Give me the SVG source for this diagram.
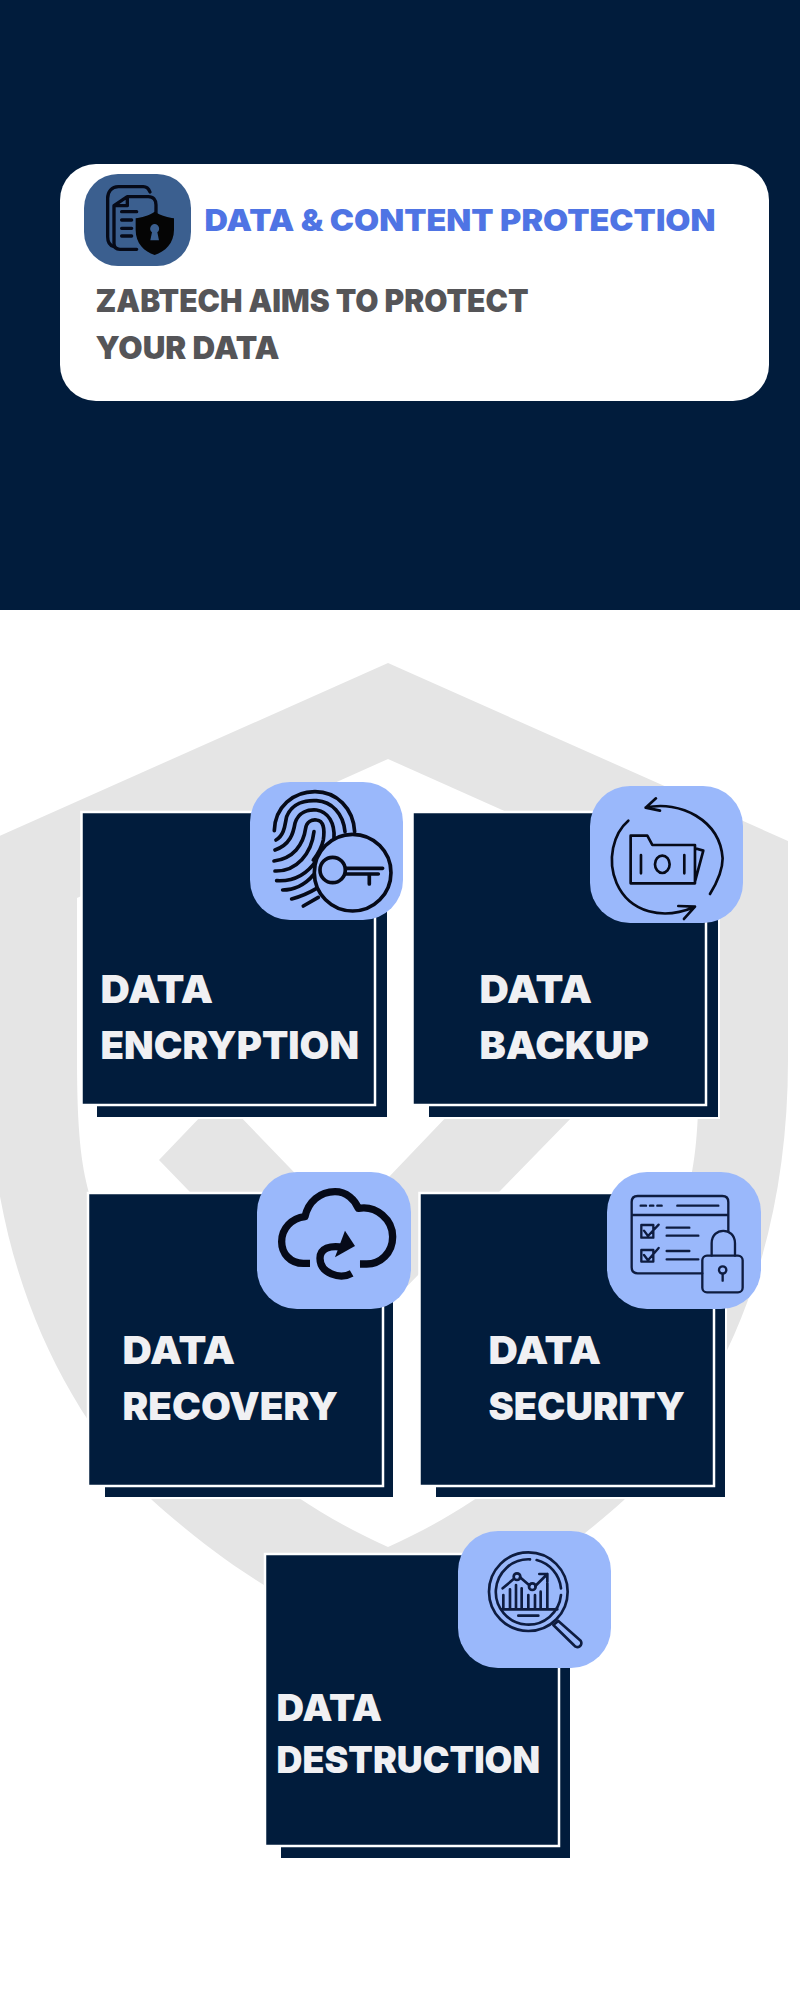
<svg xmlns="http://www.w3.org/2000/svg" width="800" height="2000" viewBox="0 0 800 2000">
<style>
.t{font-family:"Inter","Liberation Sans",sans-serif;font-weight:900}
.c{font-size:38.5px;fill:#f0f0f3}
.d{font-size:36.5px}
.h{font-size:30px;fill:#4f74e4}
.s{font-size:31px;fill:#555558}
.card{fill:#011c3c;stroke:#fff;stroke-width:2.5}
.sh{fill:#011c3c;stroke:#fff;stroke-width:2}
.box{fill:#9ab8fb}
.l{fill:none;stroke:#060a18;stroke-linecap:round;stroke-linejoin:round}
</style>
<rect width="800" height="2000" fill="#fff"/>
<rect width="800" height="610" fill="#011c3c"/>
<g id="shield" fill="#e5e5e5">
<path fill-rule="evenodd" d="M388 663L788 841V1060C788 1240 730 1390 624 1500C585 1535 490 1615 388 1640C286 1615 191 1535 152 1500C46 1390 -12 1240 -12 1060V841ZM388 759L699 898V1060C699 1130 695 1165 687 1193C650 1340 560 1470 388 1547C216 1470 126 1340 89 1193C81 1165 77 1130 77 1060V898Z"/>
<path d="M159 1160L205 1112H236L344 1224L451 1112H577L344 1351Z"/>
</g>
<g id="header">
<rect x="60" y="164" width="709" height="237" rx="36" fill="#fff"/>
<rect x="84" y="174" width="107" height="92" rx="34" fill="#3b5f8f"/>
<g transform="translate(40 140) scale(.3333)">
<g class="l" stroke-width="10">
<path d="M222 320C207 316 203 305 203 290V175C203 155 215 140 235 140H310C320 140 326 146 330 156"/>
<path d="M262 170L222 197V310C222 322 228 328 240 328H290M262 170H325C340 170 348 180 348 195V230M262 170V197H222M245 215H290M245 240H275M245 265H275M245 288H275"/>
</g>
<path d="M344 215C365 228 385 232 402 235V270C402 310 375 335 344 345C313 335 287 310 287 270V235C305 232 325 228 344 215Z" fill="#050505"/>
<path d="M344 252a14 14 0 0 1 8 25l5 24h-26l5-24a14 14 0 0 1 8-25Z" fill="#3b5f8f"/>
</g>
<text class="t h" x="204.5" y="231" textLength="511" lengthAdjust="spacingAndGlyphs">DATA &amp; CONTENT PROTECTION</text>
<text class="t s" x="95.5" y="312" textLength="433" lengthAdjust="spacingAndGlyphs">ZABTECH AIMS TO PROTECT</text>
<text class="t s" x="95.5" y="359" textLength="184" lengthAdjust="spacingAndGlyphs">YOUR DATA</text>
</g>
<g id="connectors"></g>
<g id="node-encryption">
<rect class="sh" x="96" y="830" width="292" height="288"/>
<rect class="card" x="81.5" y="812" width="293.5" height="293"/>
<rect class="box" x="250" y="782" width="153" height="138" rx="40"/>
<g transform="translate(60 760) scale(.3333)"><g class="l" stroke-width="11">
<path d="M643 212C645 140 700 95 765 95C830 95 880 145 884 215"/>
<path d="M648 240C675 225 675 190 680 170C695 130 735 120 770 122C815 125 850 160 855 215"/>
<path d="M645 270C690 255 700 220 705 190C715 155 745 148 770 150C805 155 825 190 822 235"/>
<path d="M642 303C700 295 730 255 737 205C740 185 755 178 770 180C790 182 795 205 790 240C785 265 775 280 760 300"/>
<path d="M645 333C710 335 755 280 762 215"/>
<path d="M650 362C700 365 740 345 770 300"/>
<path d="M668 390C700 390 735 375 760 345"/>
<path d="M695 417C720 410 745 400 770 385"/>
<path d="M730 438L775 412"/>
<circle cx="878" cy="338" r="115" fill="#9ab8fb"/>
<circle cx="818" cy="330" r="38"/>
<path d="M858 325H968M858 342H955M928 342V372"/>
</g></g>
<text class="t c" x="100.5" y="1003" textLength="112.5" lengthAdjust="spacingAndGlyphs">DATA</text>
<text class="t c" x="100.5" y="1059" textLength="258.5" lengthAdjust="spacingAndGlyphs">ENCRYPTION</text>
</g>
<g id="node-backup">
<rect class="sh" x="428" y="830" width="291" height="288"/>
<rect class="card" x="412.5" y="812" width="293.5" height="293"/>
<rect class="box" x="590" y="786" width="153" height="137" rx="40"/>
<g transform="translate(400 770) scale(.3333)"><g class="l" stroke-width="8">
<path d="M737 113L768 85M737 113L780 122M737 113C840 90 960 150 968 265C968 300 950 340 930 372"/>
<path d="M685 152C640 190 620 270 650 340C690 430 790 450 882 412M885 410L835 408M885 410L852 447"/>
<path d="M692 340V197H742L757 225H885V340ZM885 235L910 242L885 335M723 255V310M853 255V310"/>
<ellipse cx="787" cy="283" rx="22" ry="26"/>
</g></g>
<text class="t c" x="479.5" y="1003" textLength="112.5" lengthAdjust="spacingAndGlyphs">DATA</text>
<text class="t c" x="479.5" y="1059" textLength="169.5" lengthAdjust="spacingAndGlyphs">BACKUP</text>
</g>
<g id="node-recovery">
<rect class="sh" x="104" y="1210" width="290" height="288"/>
<rect class="card" x="88" y="1193" width="295" height="293"/>
<rect class="box" x="257" y="1172" width="154" height="137" rx="40"/>
<g transform="translate(240 1160) scale(.3333)"><g class="l" stroke-width="22" style="stroke-linecap:butt">
<path d="M210 310H190C150 310 125 280 125 245C125 205 155 175 195 170C205 125 240 95 285 95C320 95 345 120 355 145C410 135 458 180 458 230C458 280 420 312 380 312H360"/>
<path d="M335 340C300 360 240 340 240 295C240 265 270 255 310 262"/>
</g><path d="M315 212L345 258L285 292Z" fill="#060a18"/></g>
<text class="t c" x="122.5" y="1364" textLength="112.5" lengthAdjust="spacingAndGlyphs">DATA</text>
<text class="t c" x="122.5" y="1420" textLength="215.5" lengthAdjust="spacingAndGlyphs">RECOVERY</text>
</g>
<g id="node-security">
<rect class="sh" x="435" y="1210" width="291" height="288"/>
<rect class="card" x="419.5" y="1193" width="294.5" height="293"/>
<rect class="box" x="607" y="1172" width="154" height="137" rx="40"/>
<g transform="translate(600 1160) scale(.3333)"><g class="l" stroke-width="7" style="stroke:#0e1c40">
<path d="M307 340H113C100 340 95 332 95 322V126C95 115 102 108 113 108H367C378 108 385 115 385 126V215M95 165H385M122 137H138M150 137H160M172 137H185M232 137H355"/>
<path d="M124 195H160V233H124ZM132 212L144 228L176 194M200 203H268M200 227H295"/>
<path d="M124 270H160V305H124ZM132 285L144 301L176 264M200 273H268M200 298H295"/>
<rect x="307" y="287" width="121" height="110" rx="14"/>
<path d="M335 287V250C335 200 405 200 405 250V287M368 341V362"/>
<circle cx="368" cy="330" r="11"/>
</g></g>
<text class="t c" x="488.5" y="1364" textLength="112.5" lengthAdjust="spacingAndGlyphs">DATA</text>
<text class="t c" x="488.5" y="1420" textLength="196.5" lengthAdjust="spacingAndGlyphs">SECURITY</text>
</g>
<g id="node-destruction">
<rect class="sh" x="280" y="1570" width="291" height="289"/>
<rect class="card" x="265" y="1554" width="294" height="292"/>
<rect class="box" x="458" y="1531" width="153" height="137" rx="40"/>
<g transform="translate(450 1520) scale(.3333)"><g class="l" stroke-width="8" style="stroke:#0e1c40">
<circle cx="235" cy="215" r="118"/>
<path d="M240 118A98 98 0 1 0 333 225M260 120A98 98 0 0 1 333 205"/>
<path d="M160 265V225M180 265V208M198 265V195M215 265V205M235 265V225M255 265V225M272 265V215M292 265V190M155 268H322M205 287H265M158 205L190 178M210 172L238 196M256 198L292 162M268 162H292V185"/>
<circle cx="201" cy="170" r="10"/><circle cx="247" cy="200" r="10"/>
<path d="M310 315L325 303L392 362A10 10 0 0 1 372 376Z"/>
</g></g>
<text class="t c d" x="276.5" y="1721" textLength="105.5" lengthAdjust="spacingAndGlyphs">DATA</text>
<text class="t c d" x="276.5" y="1773" textLength="263.5" lengthAdjust="spacingAndGlyphs">DESTRUCTION</text>
</g>
</svg>
